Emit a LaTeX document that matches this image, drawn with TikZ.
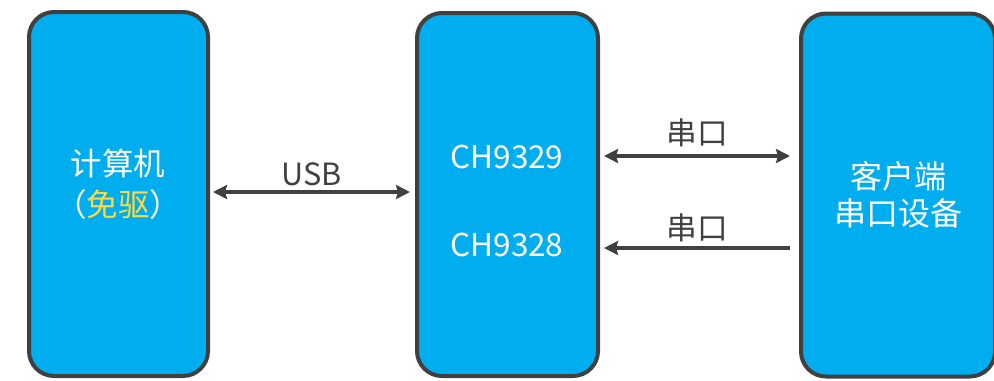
\documentclass[tikz,border=0pt]{standalone}
\usepackage{fontspec}
\setmainfont{Noto Sans CJK SC}
\usetikzlibrary{arrows.meta}
\definecolor{boxblue}{HTML}{00AEEF}
\definecolor{edgegray}{HTML}{404040}
\definecolor{freeyellow}{HTML}{FFD83C}
\tikzset{
  boxnode/.style={draw=edgegray, fill=boxblue, line width=3pt, rounded corners=18.75pt, rectangle, inner sep=0pt},
  intext/.style={text=white, font=\fontsize{23.6pt}{30pt}\selectfont, align=center, inner sep=0pt},
  lbl/.style={text=edgegray, font=\fontsize{23pt}{28pt}\selectfont, inner sep=0pt},
  arr/.style={draw=edgegray, line width=2.4pt, -{Stealth[length=10.5pt,width=10.5pt,inset=1.5pt]}},
  darr/.style={draw=edgegray, line width=2.4pt, {Stealth[length=10.5pt,width=10.5pt,inset=1.5pt]}-{Stealth[length=10.5pt,width=10.5pt,inset=1.5pt]}}
}
\begin{document}
\begin{tikzpicture}[x=0.75pt,y=-0.75pt]
\useasboundingbox (0,0) rectangle (994,380);
\node[boxnode, minimum width=134.25pt, minimum height=273pt] (L) at (118.5,194) {};
\node[boxnode, minimum width=135.75pt, minimum height=272.25pt] (M) at (507.5,194.5) {};
\node[boxnode, minimum width=145.5pt, minimum height=272.25pt] (R) at (898,195) {};

\node[intext, font=\fontsize{23.6pt}{30.75pt}\selectfont] (Ltext) at (118,184) {计算机\\（\textcolor{freeyellow}{免驱}）};
\node[intext] (M1) at (507,157) {CH9329};
\node[intext] (M2) at (507,245) {CH9328};
\node[intext, font=\fontsize{24pt}{27.75pt}\selectfont] (Rtext) at (898,195) {客户端\\串口设备};

\draw[darr] ([xshift=2.25pt,yshift=1.5pt]L.east) -- ([xshift=-3.75pt,yshift=1.875pt]M.west);
\node[lbl] (usb) at (312,174) {USB};

\draw[darr] ([xshift=3pt,yshift=28.875pt]M.east) -- ([xshift=-6.75pt,yshift=29.25pt]R.west);
\node[lbl] (s1) at (697,133) {串口};
\draw[arr] ([xshift=-6.75pt,yshift=-39.75pt]R.west) -- ([xshift=3pt,yshift=-40.125pt]M.east);
\node[lbl] (s2) at (697,228) {串口};
\end{tikzpicture}
\end{document}
